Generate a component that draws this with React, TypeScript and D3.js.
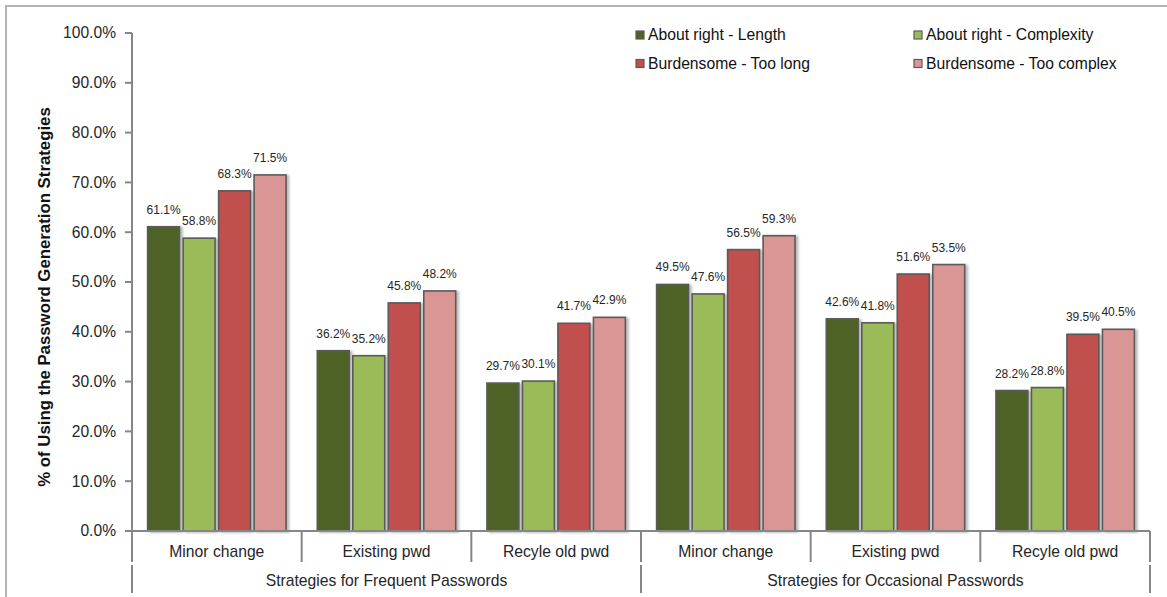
import React from "react";
import * as d3 from "d3";

// Grouped bar chart: password generation strategies by perceived policy burden
const groups = ["Strategies for Frequent Passwords", "Strategies for Occasional Passwords"];
const strategies = ["Minor change", "Existing pwd", "Recyle old pwd"];
const seriesNames = [
  "About right - Length",
  "About right - Complexity",
  "Burdensome - Too long",
  "Burdensome - Too complex",
];
const seriesColors = ["#4F6228", "#9BBB59", "#C0504D", "#D99694"];

// values per series, in category order (Frequent x3, Occasional x3)
const aboutRightLength = [61.1, 36.2, 29.7, 49.5, 42.6, 28.2];
const aboutRightComplexity = [58.8, 35.2, 30.1, 47.6, 41.8, 28.8];
const burdensomeTooLong = [68.3, 45.8, 41.7, 56.5, 51.6, 39.5];
const burdensomeTooComplex = [71.5, 48.2, 42.9, 59.3, 53.5, 40.5];
const seriesValues = [aboutRightLength, aboutRightComplexity, burdensomeTooLong, burdensomeTooComplex];

const yTicks = [0, 10, 20, 30, 40, 50, 60, 70, 80, 90, 100];

const W = 1167;
const H = 597;
const FONT = "Arial, 'Liberation Sans', sans-serif";

export default function App() {
  const left = 132;
  const right = 1150;
  const top = 33;
  const bottom = 531;

  const categories = groups.flatMap((g) => strategies.map((s) => `${g}|${s}`));

  const x0 = d3.scaleBand<string>().domain(categories).range([left, right]).padding(0);
  const x1 = d3
    .scaleBand<string>()
    .domain(seriesNames)
    .range([0, x0.bandwidth()])
    .paddingInner(0.1)
    .paddingOuter(0.44);
  const y = d3.scaleLinear().domain([0, 100]).range([bottom, top]);

  const groupW = x0.bandwidth() * strategies.length;

  const axisColor = "#868686";
  const textColor = "#262626";

  return (
    <svg
      width={W}
      height={H}
      style={{ position: "absolute", left: 0, top: 0, background: "#fff" }}
      fontFamily={FONT}
    >
      <defs>
        <filter id="barShadow" x="-20%" y="-10%" width="150%" height="120%">
          <feDropShadow dx="2.5" dy="1" stdDeviation="1.3" floodColor="#000" floodOpacity="0.28" />
        </filter>
      </defs>

      {/* chart area frame */}
      <rect x={6} y={6} width={W + 20} height={H + 20} fill="#fff" stroke="#b4b4b4" strokeWidth={2} />

      {/* y axis title */}
      <text
        transform={`translate(50, ${(top + bottom) / 2 + 15}) rotate(-90)`}
        textAnchor="middle"
        fontSize={16.8}
        fontWeight="bold"
        fill="#111"
      >
        % of Using the Password Generation Strategies
      </text>

      {/* y axis */}
      <line x1={left} x2={left} y1={top} y2={bottom} stroke={axisColor} strokeWidth={2} />
      {yTicks.map((t) => (
        <g key={t}>
          <line x1={left - 7} x2={left} y1={y(t)} y2={y(t)} stroke={axisColor} strokeWidth={2} />
          <text
            x={left - 16}
            y={y(t)}
            dy="0.35em"
            textAnchor="end"
            fontSize={15.6}
            fill={textColor}
          >
            {t.toFixed(1)}%
          </text>
        </g>
      ))}

      {/* bars */}
      {seriesNames.map((s, si) =>
        categories.map((c, ci) => {
          const v = seriesValues[si][ci];
          const bx = (x0(c) ?? 0) + (x1(s) ?? 0);
          return (
            <rect
              key={`${s}-${c}`}
              x={bx}
              y={y(v)}
              width={x1.bandwidth()}
              height={bottom - y(v)}
              fill={seriesColors[si]}
              stroke="#5a5a5a"
              strokeWidth={1.6}
              filter="url(#barShadow)"
            />
          );
        })
      )}

      {/* data labels */}
      {seriesNames.map((s, si) =>
        categories.map((c, ci) => {
          const v = seriesValues[si][ci];
          const cx = (x0(c) ?? 0) + (x1(s) ?? 0) + x1.bandwidth() / 2;
          return (
            <text
              key={`lbl-${s}-${c}`}
              x={cx}
              y={y(v) - 13}
              textAnchor="middle"
              fontSize={12}
              fill={textColor}
            >
              {v.toFixed(1)}%
            </text>
          );
        })
      )}

      {/* category axis */}
      <line x1={left - 7} x2={right} y1={bottom} y2={bottom} stroke={axisColor} strokeWidth={2} />
      {d3.range(categories.length + 1).map((i) => {
        const xx = left + i * x0.bandwidth();
        return (
          <line key={`it-${i}`} x1={xx} x2={xx} y1={bottom} y2={bottom + 31} stroke={axisColor} strokeWidth={2} />
        );
      })}
      {categories.map((c) => (
        <text
          key={`cl-${c}`}
          x={(x0(c) ?? 0) + x0.bandwidth() / 2}
          y={bottom + 21}
          dy="0.35em"
          textAnchor="middle"
          fontSize={15.7}
          fill={textColor}
        >
          {c.split("|")[1]}
        </text>
      ))}
      {d3.range(groups.length + 1).map((i) => {
        const xx = left + i * groupW;
        return (
          <line key={`ot-${i}`} x1={xx} x2={xx} y1={bottom + 34} y2={bottom + 62} stroke={axisColor} strokeWidth={2} />
        );
      })}
      {groups.map((g, gi) => (
        <text
          key={`gl-${g}`}
          x={left + gi * groupW + groupW / 2}
          y={bottom + 50}
          dy="0.35em"
          textAnchor="middle"
          fontSize={15.7}
          fill={textColor}
        >
          {g}
        </text>
      ))}

      {/* legend */}
      {seriesNames.map((s, si) => {
        const lx = si % 2 === 0 ? 636 : 914;
        const ly = si < 2 ? 35 : 63.5;
        return (
          <g key={`lg-${s}`}>
            <rect x={lx} y={ly - 4} width={8} height={8} fill={seriesColors[si]} stroke="#5a5a5a" strokeWidth={1.2} />
            <text x={lx + 12} y={ly} dy="0.35em" fontSize={15.7} fill="#111">
              {s}
            </text>
          </g>
        );
      })}
    </svg>
  );
}
